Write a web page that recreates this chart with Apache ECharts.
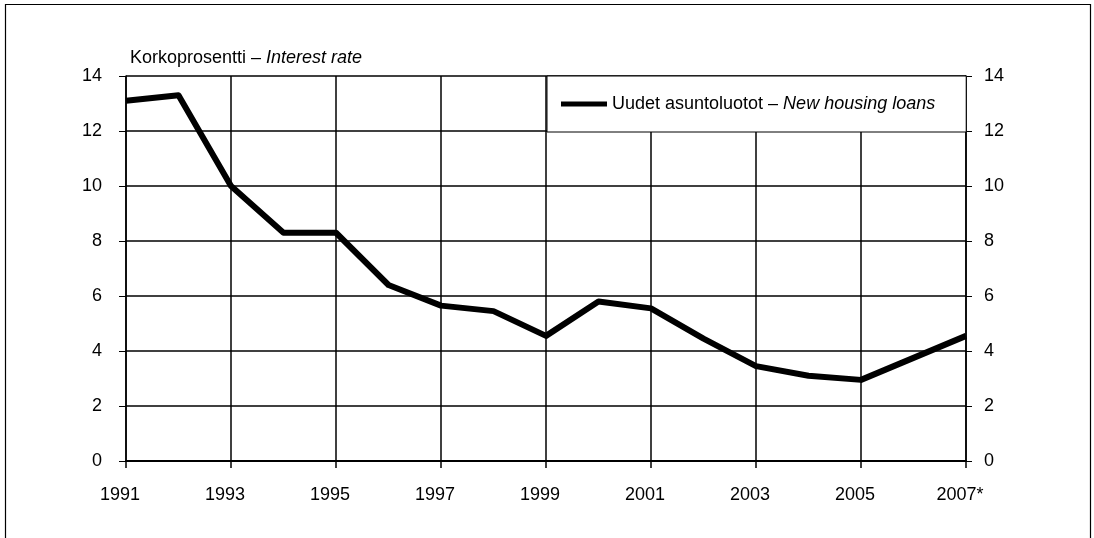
<!DOCTYPE html>
<html>
<head>
<meta charset="utf-8">
<script src="https://cdn.jsdelivr.net/npm/echarts@6/dist/echarts.min.js"></script>
<style>
html,body{margin:0;padding:0;background:#fff;}
#chart{width:1094px;height:538px;}
</style>
</head>
<body>
<div id="chart"></div>
<script>
const years = ['1991','1992','1993','1994','1995','1996','1997','1998','1999','2000','2001','2002','2003','2004','2005','2006','2007*'];
const newHousingLoans = [13.1, 13.3, 10.0, 8.3, 8.3, 6.4, 5.65, 5.45, 4.55, 5.8, 5.55, 4.45, 3.45, 3.1, 2.95, 3.75, 4.55];
const yTicks = [0, 2, 4, 6, 8, 10, 12, 14];
const seriesName = 'Uudet asuntoluotot – New housing loans';

const FONT = "'Liberation Sans', Arial, sans-serif";
const FS = 18;
const chart = echarts.init(document.getElementById('chart'), null, {renderer: 'canvas'});
const yAxisBase = {
  type: 'value',
  min: yTicks[0],
  max: yTicks[yTicks.length - 1],
  interval: 2,
  axisLine: {show: true, lineStyle: {color: '#000', width: 1.5}},
  axisTick: {show: true, length: 7, lineStyle: {color: '#000', width: 1}},
  axisLabel: {color: '#000', fontSize: FS, fontFamily: FONT},
};
chart.setOption({
  animation: false,
  backgroundColor: '#fff',
  title: {
    text: '{a|Korkoprosentti – }{b|Interest rate}',
    left: 125, top: 44,
    textStyle: {
      fontWeight: 'normal',
      rich: {
        a: {fontSize: FS, fontFamily: FONT, color: '#000', fontWeight: 'normal'},
        b: {fontSize: FS, fontFamily: FONT, color: '#000', fontStyle: 'italic', fontWeight: 'normal'}
      }
    }
  },
  graphic: [{
    type: 'rect', silent: true, z: -10,
    shape: {x: 5.5, y: 4.5, width: 1085, height: 560},
    style: {fill: 'none', stroke: '#000', lineWidth: 1.2}
  }],
  legend: {
    left: 547, top: 76,
    backgroundColor: '#fff',
    borderColor: '#000', borderWidth: 1,
    padding: [19, 31, 19, 14],
    itemWidth: 46, itemHeight: 5, itemGap: 6,
    icon: 'rect',
    data: [seriesName],
    formatter: function () { return '{a|Uudet asuntoluotot – }{b|New housing loans}'; },
    textStyle: {
      padding: [0, 0, 0, 0],
      rich: {
        a: {fontSize: FS, fontFamily: FONT, color: '#000'},
        b: {fontSize: FS, fontFamily: FONT, color: '#000', fontStyle: 'italic'}
      }
    },
    z: 10
  },
  grid: {left: 126, right: 128, top: 76, bottom: 77, containLabel: false},
  xAxis: {
    type: 'category',
    data: years,
    boundaryGap: false,
    axisLine: {show: true, lineStyle: {color: '#000', width: 2}},
    axisTick: {show: true, interval: 1, length: 7, lineStyle: {color: '#000', width: 1.5}},
    axisLabel: {interval: 1, color: '#000', fontSize: FS, fontFamily: FONT, margin: 25, padding: [0, 12, 0, 0]},
    splitLine: {show: true, interval: 1, lineStyle: {color: '#000', width: 1.5}}
  },
  yAxis: [
    Object.assign({}, yAxisBase, {
      position: 'left',
      axisLabel: Object.assign({}, yAxisBase.axisLabel, {margin: 24}),
      splitLine: {show: true, lineStyle: {color: '#000', width: 1.5}}
    }),
    Object.assign({}, yAxisBase, {
      position: 'right',
      axisTick: {show: true, length: 6, lineStyle: {color: '#000', width: 1}},
      axisLabel: Object.assign({}, yAxisBase.axisLabel, {margin: 18}),
      splitLine: {show: false}
    })
  ],
  series: [{
    name: seriesName,
    type: 'line',
    data: newHousingLoans,
    symbol: 'none',
    lineStyle: {color: '#000', width: 6, join: 'round'},
    itemStyle: {color: '#000'},
    z: 5
  }]
});
</script>
</body>
</html>
